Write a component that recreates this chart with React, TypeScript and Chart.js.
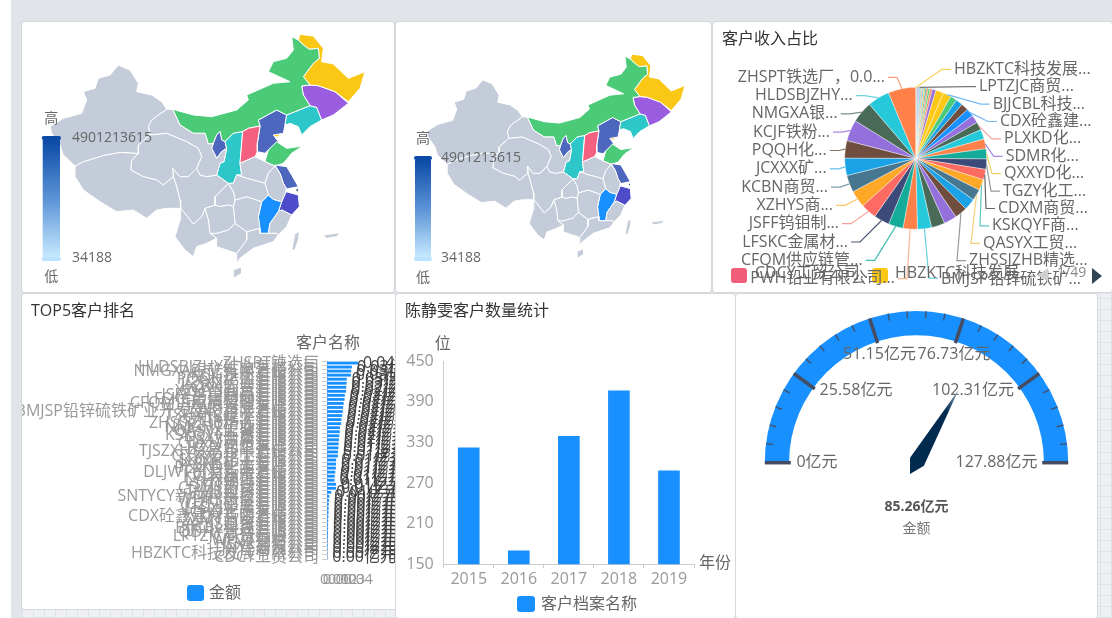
import React, { useEffect, useRef } from "react";
import { Chart, registerables } from "chart.js";

Chart.register(...registerables);

const FONT = '"Open Sans","Noto Sans CJK SC",sans-serif';

// ---------- customers ----------
const customerNames = [
  "ZHSPT铁选厂", "HLDSBJZHY矿业有限公司", "NMGXA银矿有限责任公司", "KCJF铁粉有限公司", "PQQH化工有限公司",
  "JCXXX矿业有限公司", "KCBN商贸有限公司", "XZHYS商贸有限公司", "JSFF钨钼制品有限公司", "LFSKC金属材料有限公司",
  "CFQM供应链管理有限公司", "PWH铅业有限公司", "BMJSP铅锌硫铁矿业开发建设有限责任公司", "TSHXKC矿业有限公司", "GYTX化工有限公司",
  "ZHSSJZHB精选有限公司", "NMGHT矿业有限公司", "QASYX工贸有限公司", "KSKQYF商贸有限公司", "TJSXY金属有限公司",
  "CDXM商贸有限公司", "TGZY化工有限公司", "TJSZXH贸易有限责任公司", "QXXYD化工有限公司", "SDMR化工有限公司",
  "JXSNL矿业有限公司", "PLXKD化工有限公司", "DLJWT贸易有限责任公司", "KCLH商贸有限公司", "LYHX化工有限公司",
  "SYJT钢铁有限公司", "CDMY商贸有限公司", "TYZB工贸有限公司", "SNTYCY新材料科技有限公司", "WHRS商贸有限公司",
  "GZFL矿业有限公司", "LFSXJ金属有限公司", "YCHD化工有限公司", "CDX砼鑫建材有限责任公司", "ZZMT商贸有限公司",
  "AYKS工贸有限公司", "BJJCBL科技有限公司", "QDHY贸易有限公司", "LPTZJC商贸有限公司", "WFGT钢材公司",
  "HSXR贸易公司", "JNYF商贸公司", "HBZKTC科技发展有限公司", "CDCY工贸公司",
];
const customerAmounts = [
  0.04, 0.0321, 0.0312, 0.0308, 0.0255, 0.0253, 0.0249, 0.0246, 0.023, 0.0226,
  0.0215, 0.0208, 0.0204, 0.0197, 0.0187, 0.0183, 0.0167, 0.0165, 0.0158, 0.0154,
  0.015, 0.0147, 0.0143, 0.014, 0.0118, 0.0116, 0.0115, 0.0107, 0.01, 0.0097,
  0.0116, 0.0115, 0.0054, 0.003, 0.0027, 0.0023, 0.0021, 0.002, 0.0018, 0.0016,
  0.0014, 0.0014, 0.0013, 0.0011, 0.0009, 0.0009, 0.0007, 0.0005, 0.0004,
];
const sliceColors = [
  "#ff8149", "#26c9d9", "#4a6a58", "#9370db", "#6f4e3f", "#1ba2e6", "#47778f", "#ffa726", "#ff6b63", "#3b4a78", "#14ab99",
  "#ff8149", "#26c9d9", "#4a6a58", "#9370db", "#6f4e3f", "#1ba2e6", "#47778f", "#ffa726", "#ff6b63", "#3b4a78", "#14ab99",
  "#ff8149", "#26c9d9", "#4a6a58", "#9370db", "#1890ff", "#6f4e3f", "#1ba2e6", "#4bcb78", "#fbc815", "#fbc815",
  "#9370db", "#ff8149", "#4bcb78", "#ff8149", "#14ab99", "#ffa726", "#26c9d9", "#ff6b63", "#4bcb78", "#1ba2e6",
  "#9370db", "#14ab99", "#5a6478", "#3b4a78", "#1890ff", "#fbc815", "#f25e7a",
];

// pie outer labels: text, the customer row they attach to, leader colour
const leftLabels = ["ZHSPT铁选厂，0.0...", "HLDSBJZHY...", "NMGXA银...", "KCJF铁粉...", "PQQH化...", "JCXXX矿...", "KCBN商贸...", "XZHYS商...", "JSFF钨钼制...", "LFSKC金属材...", "CFQM供应链管...", "PWH铅业有限公司..."];
const leftRows = [0, 1, 2, 3, 4, 5, 6, 7, 8, 9, 10, 11];
const leftColors = ["#f5a07c", "#6fd3de", "#7b8f84", "#a58ae0", "#8d7468", "#63bdec", "#7f9dad", "#fbc56c", "#fb9c96", "#4c5673", "#3fbdae", "#f7b595"];
const rightLabels = ["HBZKTC科技发展...", "LPTZJC商贸...", "BJJCBL科技...", "CDX砼鑫建...", "PLXKD化...", "SDMR化...", "QXXYD化...", "TGZY化工...", "CDXM商贸...", "KSKQYF商...", "QASYX工贸...", "ZHSSJZHB精选...", "BMJSP铅锌硫铁矿..."];
const rightRows = [47, 42, 30, 26, 24, 22, 21, 20, 19, 18, 17, 15, 12];
const rightColors = ["#f7d154", "#777777", "#74b9f5", "#74b9f5", "#f5a0a0", "#a58ae0", "#f0d060", "#999999", "#666666", "#5ec4c4", "#f5ce75", "#999999", "#66d0dc"];
const leftEdges = [885, 852.7, 837.7, 830, 826.7, 826.7, 828, 833, 839, 848, 862.7, 895];
const rightEdges = [954, 979, 992.7, 1000, 1004, 1005.7, 1004, 1003, 998, 992, 983, 969, 941];
const pieLegendNames = ["CDCY工贸公司...", "HBZKTC科技发展..."];

// ---------- yearly customer counts ----------
const years = ["2015", "2016", "2017", "2018", "2019"];
const customerCounts = [322, 170, 339, 406, 288];

// ---------- gauge ----------
const gaugeMax = 127.88;
const gaugeValue = 85.26;
const gaugeTickLabels = ["0亿元", "25.58亿元", "51.15亿元", "76.73亿元", "102.31亿元", "127.88亿元"];
const gaugeLabelOffsets = [[-99.5, 0], [-60.5, -72], [-37, -108], [37.5, -108], [56.5, -72], [80, 0]];

// ---------- map ----------
const visualMax = "4901213615";
const visualMin = "34188";
const GRAY = "#c4cbd9";
type Pt = [number, number];
const xinjiang: Pt[] = [[295,135],[330,150],[355,190],[350,215],[395,225],[425,245],[440,268],[415,285],[395,300],[385,320],[390,345],[355,375],[355,400],[300,397],[255,405],[190,425],[165,438],[130,405],[120,375],[95,340],[90,320],[130,295],[185,280],[200,240],[190,215],[225,205],[235,175],[270,165]];
const tibet: Pt[] = [[165,438],[190,425],[255,405],[300,397],[355,400],[335,420],[332,450],[370,470],[410,480],[430,495],[460,470],[470,500],[480,540],[482,565],[440,565],[410,570],[380,595],[340,570],[290,575],[240,545],[190,510],[165,470]];
const qinghai: Pt[] = [[355,400],[355,375],[390,345],[440,340],[500,365],[535,385],[545,410],[530,445],[505,470],[480,470],[458,445],[460,470],[430,495],[410,480],[370,470],[332,450],[335,420]];
const gansu: Pt[] = [[440,268],[458,268],[480,315],[520,340],[555,340],[565,372],[580,370],[575,385],[590,415],[605,395],[620,385],[612,425],[600,430],[590,465],[560,470],[540,465],[530,445],[545,410],[535,385],[500,365],[440,340],[390,345],[385,320],[395,300],[415,285]];
const sichuan: Pt[] = [[458,445],[480,470],[505,470],[530,445],[540,465],[560,470],[590,465],[625,490],[585,530],[585,555],[555,565],[545,590],[520,612],[495,580],[482,565],[480,540],[470,500],[460,470]];
const yunnan: Pt[] = [[482,565],[495,580],[520,612],[545,590],[555,565],[565,600],[570,640],[590,655],[560,670],[530,680],[520,710],[495,690],[465,650],[480,600]];
const guizhou: Pt[] = [[555,565],[585,555],[600,560],[625,555],[640,560],[645,610],[625,630],[590,640],[570,640],[565,600]];
const chongqing: Pt[] = [[585,530],[625,490],[640,515],[645,540],[640,560],[625,555],[600,560],[585,555]];
const hubei: Pt[] = [[640,490],[650,465],[680,475],[700,480],[735,490],[745,525],[725,545],[680,530],[645,540],[640,515],[625,490]];
const hunan: Pt[] = [[640,560],[645,540],[680,530],[725,545],[715,590],[720,625],[680,635],[645,610]];
const guangxi: Pt[] = [[570,640],[590,640],[625,630],[645,610],[680,635],[680,660],[650,700],[620,690],[590,680],[590,655]];
const guangdong: Pt[] = [[680,660],[680,635],[720,625],[720,640],[745,640],[770,640],[775,645],[760,665],[700,685],[660,715],[650,730],[650,700]];
const hainan: Pt[] = [[640,750],[665,740],[665,760],[640,775]];
const fujian: Pt[] = [[750,610],[775,575],[785,570],[815,585],[800,620],[775,645],[770,640],[745,640]];
const taiwan: Pt[] = [[815,690],[825,640],[838,635],[835,660],[825,690]];
const southSea: Pt[] = [[910,645],[960,638],[950,650],[920,655]];
const anhui: Pt[] = [[765,438],[780,460],[790,490],[800,507],[798,515],[785,545],[760,538],[745,525],[735,490],[745,460]];
const henan: Pt[] = [[650,465],[665,465],[660,430],[705,410],[735,425],[765,438],[745,460],[735,490],[700,480],[680,475]];
const jiangxi: Pt[] = [[725,545],[745,525],[760,538],[785,545],[775,575],[750,610],[745,640],[720,640],[715,590]];
const zhejiang: Pt[] = [[798,515],[835,525],[838,560],[815,585],[785,570],[775,575],[785,545]];
const shanghai: Pt[] = [[828,506],[836,506],[836,514],[828,514]];
const jiangsu: Pt[] = [[765,435],[800,440],[815,465],[835,500],[800,507],[790,490],[780,460]];
const shandong: Pt[] = [[735,425],[745,390],[770,365],[800,385],[848,378],[815,400],[790,430],[765,438]];
const shanxi: Pt[] = [[668,335],[685,325],[720,318],[712,370],[712,395],[705,410],[660,430]];
const shaanxi: Pt[] = [[640,340],[668,335],[660,430],[665,465],[650,465],[640,490],[625,490],[590,465],[600,430],[612,425],[620,385],[615,365]];
const ningxia: Pt[] = [[590,345],[600,335],[605,360],[615,365],[620,385],[605,395],[590,415],[575,385],[580,370]];
const innerMongolia: Pt[] = [[458,268],[520,285],[575,290],[650,270],[685,240],[680,225],[760,190],[810,185],[745,155],[760,125],[800,115],[820,90],[815,50],[835,60],[850,75],[868,88],[895,85],[898,115],[880,130],[850,170],[870,195],[845,198],[850,225],[870,257],[800,285],[770,270],[715,300],[720,318],[685,325],[668,335],[640,340],[615,365],[605,360],[600,335],[590,345],[580,370],[565,372],[555,340],[520,340],[480,315]];
const heilongjiang: Pt[] = [[840,43],[880,48],[910,85],[905,125],[940,132],[985,175],[1035,155],[1020,205],[985,245],[945,215],[895,197],[870,195],[850,170],[880,130],[898,115],[895,85],[868,88],[850,75],[835,60]];
const jilin: Pt[] = [[845,198],[870,195],[895,197],[945,215],[985,250],[940,285],[905,300],[890,262],[870,257],[850,225]];
const liaoning: Pt[] = [[800,285],[870,257],[890,262],[905,300],[870,320],[845,345],[835,320],[810,310],[795,315]];
const hebei: Pt[] = [[715,300],[770,270],[800,285],[795,315],[790,340],[760,345],[775,365],[745,390],[735,400],[712,395],[712,370],[720,318]];
const beijing: Pt[] = [[742,315],[765,305],[770,320],[752,335]];
const tianjin: Pt[] = [[760,335],[775,330],[778,350],[762,350]];

const mapRegions: { shape: Pt[]; color: string }[] = [
  { shape: xinjiang, color: GRAY }, { shape: tibet, color: GRAY }, { shape: qinghai, color: GRAY }, { shape: gansu, color: GRAY },
  { shape: sichuan, color: GRAY }, { shape: yunnan, color: GRAY }, { shape: guizhou, color: GRAY }, { shape: chongqing, color: GRAY },
  { shape: hubei, color: GRAY }, { shape: hunan, color: GRAY }, { shape: guangxi, color: GRAY }, { shape: guangdong, color: GRAY },
  { shape: hainan, color: GRAY }, { shape: fujian, color: GRAY }, { shape: taiwan, color: GRAY }, { shape: southSea, color: GRAY },
  { shape: anhui, color: GRAY }, { shape: henan, color: GRAY },
  { shape: jiangxi, color: "#1890ff" }, { shape: zhejiang, color: "#4f4ccb" }, { shape: jiangsu, color: "#4d67bf" },
  { shape: shanghai, color: "#2b3a6b" }, { shape: shandong, color: "#4bcb78" }, { shape: shanxi, color: "#f4607f" },
  { shape: shaanxi, color: "#2dc7c9" }, { shape: ningxia, color: "#4d67bf" }, { shape: innerMongolia, color: "#4bcb78" },
  { shape: heilongjiang, color: "#fac714" }, { shape: jilin, color: "#9a5de0" }, { shape: liaoning, color: "#2dc7c9" },
  { shape: hebei, color: "#4d67bf" }, { shape: beijing, color: "#f4607f" }, { shape: tianjin, color: "#fac714" },
];

function text(ctx: CanvasRenderingContext2D, s: string, x: number, y: number, font: string, color: string, align: CanvasTextAlign = "left") {
  ctx.save();
  ctx.font = font;
  ctx.fillStyle = color;
  ctx.textAlign = align;
  ctx.textBaseline = "middle";
  ctx.fillText(s, x, y);
  ctx.restore();
}
const f = (size: number, weight = "") => `${weight} ${size}px ${FONT}`.trim();

function legendSwatch(ctx: CanvasRenderingContext2D, x: number, y: number, w: number, h: number, color: string) {
  ctx.save();
  ctx.fillStyle = color;
  ctx.beginPath();
  ctx.roundRect(x, y, w, h, 3);
  ctx.fill();
  ctx.restore();
}

function mapConfig(xr: Pt, yr: Pt, vm: { barL: number; barR: number; top: number; bottom: number; hiY: number; loY: number; textX: number }) {
  return {
    type: "scatter",
    data: {
      datasets: mapRegions.map((r) => ({
        data: [...r.shape, r.shape[0]].map(([x, y]) => ({ x, y })),
        showLine: true,
        fill: false,
        backgroundColor: r.color,
        borderColor: "#ffffff",
        borderWidth: 1,
        pointRadius: 0,
        tension: 0,
      })),
    },
    options: {
      animation: false,
      responsive: false,
      layout: { padding: 0 },
      plugins: { legend: { display: false }, tooltip: { enabled: false } },
      scales: {
        x: { type: "linear", display: false, min: xr[0], max: xr[1] },
        y: { type: "linear", display: false, min: yr[0], max: yr[1], reverse: true },
      },
    },
    plugins: [
      {
        id: "regionFill",
        beforeDatasetDraw(chart: any, args: any) {
          const ctx = chart.ctx;
          const pts = args.meta.data;
          ctx.save();
          ctx.fillStyle = chart.data.datasets[args.index].backgroundColor;
          ctx.beginPath();
          pts.forEach((p: any, i: number) => (i ? ctx.lineTo(p.x, p.y) : ctx.moveTo(p.x, p.y)));
          ctx.closePath();
          ctx.fill();
          ctx.restore();
        },
      },
      {
        id: "visualMap",
        afterDraw(chart: any) {
          const ctx = chart.ctx;
          const g = ctx.createLinearGradient(0, vm.top, 0, vm.bottom);
          g.addColorStop(0, "#0b4ba6");
          g.addColorStop(0.5, "#5b93d6");
          g.addColorStop(1, "#c5e8ff");
          ctx.save();
          ctx.fillStyle = g;
          ctx.fillRect(vm.barL, vm.top, vm.barR - vm.barL, vm.bottom - vm.top);
          ctx.fillStyle = "#0b4ba6";
          ctx.beginPath();
          ctx.roundRect(vm.barL - 1, vm.top - 4, vm.barR - vm.barL + 2, 4, 2);
          ctx.fill();
          ctx.fillStyle = "#b9e3ff";
          ctx.beginPath();
          ctx.roundRect(vm.barL - 1, vm.bottom, vm.barR - vm.barL + 2, 4, 2);
          ctx.fill();
          ctx.restore();
          const cx = (vm.barL + vm.barR) / 2;
          text(ctx, "高", cx, vm.hiY, f(14), "#666", "center");
          text(ctx, "低", cx, vm.loY, f(14), "#666", "center");
          text(ctx, visualMax, vm.textX, vm.top - 2, f(14), "#666");
          text(ctx, visualMin, vm.textX, vm.bottom + 1, f(14), "#666");
        },
      },
    ],
  };
}

const PIE_X = 713;
const PIE_Y = 22;
const pieConfig: any = {
  type: "pie",
  data: {
    labels: [...customerNames].reverse(),
    datasets: [
      {
        data: [...customerAmounts].reverse(),
        backgroundColor: [...sliceColors].reverse(),
        borderColor: "#ffffff",
        borderWidth: 0.4,
      },
    ],
  },
  options: {
    animation: false,
    responsive: false,
    radius: 71,
    layout: { padding: { left: 6.4, top: 2.6 } },
    plugins: { legend: { display: false }, tooltip: { enabled: false } },
  },
  plugins: [
    {
      id: "pieLabels",
      afterDraw(chart: any) {
        const ctx = chart.ctx;
        const arcs = chart.getDatasetMeta(0).data;
        const leader = (row: number, edge: number, y: number, color: string, side: number) => {
          const arc = arcs[customerNames.length - 1 - row];
          const mid = (arc.startAngle + arc.endAngle) / 2;
          const x0 = arc.x + Math.cos(mid) * arc.outerRadius;
          const y0 = arc.y + Math.sin(mid) * arc.outerRadius;
          const ex = edge - PIE_X;
          ctx.save();
          ctx.strokeStyle = color;
          ctx.lineWidth = 1.2;
          ctx.beginPath();
          ctx.moveTo(x0, y0);
          ctx.lineTo(ex - side * 12, y);
          ctx.lineTo(ex - side * 3, y);
          ctx.stroke();
          ctx.restore();
        };
        leftLabels.forEach((s, i) => {
          const y = 77.3 + 18.3 * i - PIE_Y;
          leader(leftRows[i], leftEdges[i], y, leftColors[i], -1);
        });
        rightLabels.forEach((s, i) => {
          const y = 69.3 + 17.4 * i - PIE_Y;
          leader(rightRows[i], rightEdges[i], y, rightColors[i], 1);
        });
        // legend underneath the labels
        legendSwatch(ctx, 731 - PIE_X, 268 - PIE_Y, 16, 15, "#f25e7a");
        legendSwatch(ctx, 872 - PIE_X, 268 - PIE_Y, 16, 15, "#fbc815");
        text(ctx, pieLegendNames[0], 755 - PIE_X, 273 - PIE_Y, f(16), "#666");
        text(ctx, pieLegendNames[1], 895 - PIE_X, 273 - PIE_Y, f(16), "#666");
        leftLabels.forEach((s, i) => {
          text(ctx, s, leftEdges[i] - PIE_X, 77.3 + 18.3 * i - PIE_Y, f(16), "#666", "right");
        });
        rightLabels.forEach((s, i) => {
          text(ctx, s, rightEdges[i] - PIE_X, 69.3 + 17.4 * i - PIE_Y + (i === 12 ? 1 : 0), f(16), "#666");
        });
        text(ctx, "1/49", 1057 - PIE_X, 273 - PIE_Y, f(14), "#888");
        ctx.save();
        ctx.fillStyle = "#cfcfcf";
        ctx.beginPath();
        ctx.moveTo(1038 - PIE_X, 275 - PIE_Y);
        ctx.lineTo(1048 - PIE_X, 268 - PIE_Y);
        ctx.lineTo(1048 - PIE_X, 282 - PIE_Y);
        ctx.fill();
        ctx.fillStyle = "#2f4554";
        ctx.beginPath();
        ctx.moveTo(1092 - PIE_X, 268 - PIE_Y);
        ctx.lineTo(1102 - PIE_X, 276 - PIE_Y);
        ctx.lineTo(1092 - PIE_X, 284 - PIE_Y);
        ctx.fill();
        ctx.restore();
      },
    },
  ],
};

const AXIS = "#cccccc";
const topConfig: any = {
  type: "bar",
  data: {
    labels: customerNames,
    datasets: [{ label: "金额", data: customerAmounts, backgroundColor: "#1890ff", barPercentage: 0.7, categoryPercentage: 1 }],
  },
  options: {
    indexAxis: "y",
    animation: false,
    responsive: false,
    layout: { padding: { left: 0, right: 38, top: 67, bottom: 20 } },
    plugins: { legend: { display: false }, tooltip: { enabled: false } },
    scales: {
      x: {
        type: "linear",
        min: 0,
        max: 0.04,
        grid: { display: false },
        border: { color: "#ffffff00" },
        ticks: { stepSize: 0.01, autoSkip: false, maxRotation: 0, minRotation: 0, color: "#999", font: { family: FONT, size: 15 }, padding: 4 },
        afterFit(s: any) { s.height = 30; },
      },
      y: {
        type: "category",
        grid: { display: true, drawOnChartArea: false, color: AXIS, tickLength: 5 },
        border: { color: AXIS },
        ticks: { autoSkip: false, color: "#999", font: { family: FONT, size: 16 }, padding: 3 },
        afterFit(s: any) { s.width = 305; },
      },
    },
  },
  plugins: [
    {
      id: "valueLabels",
      afterDraw(chart: any) {
        const ctx = chart.ctx;
        chart.getDatasetMeta(0).data.forEach((bar: any, i: number) => {
          text(ctx, customerAmounts[i].toFixed(2) + "亿元", bar.x + 5, bar.y, f(16), "#444");
        });
        text(ctx, "客户名称", 306, 49, f(16), "#666", "center");
        legendSwatch(ctx, 165, 291, 17, 16, "#1890ff");
        text(ctx, "金额", 187, 299, f(16), "#666");
      },
    },
  ],
};

const yearConfig: any = {
  type: "bar",
  data: {
    labels: years,
    datasets: [{ label: "客户档案名称", data: customerCounts, backgroundColor: "#1890ff", barThickness: 21 }],
  },
  options: {
    animation: false,
    responsive: false,
    layout: { padding: { left: 7.7, right: 41, top: 67, bottom: 13.7 } },
    plugins: { legend: { display: false }, tooltip: { enabled: false } },
    scales: {
      x: {
        type: "category",
        grid: { display: true, drawOnChartArea: false, color: AXIS, tickLength: 4 },
        border: { color: AXIS },
        ticks: { color: "#999", font: { family: FONT, size: 16 }, padding: 2 },
        afterFit(s: any) { s.height = 40; },
      },
      y: {
        type: "linear",
        min: 150,
        max: 450,
        grid: { display: false },
        border: { color: AXIS },
        ticks: { stepSize: 60, color: "#999", font: { family: FONT, size: 16 }, padding: 2 },
        afterFit(s: any) { s.width = 40; },
      },
    },
  },
  plugins: [
    {
      id: "yearExtras",
      afterDraw(chart: any) {
        const ctx = chart.ctx;
        const { left, right, top, bottom } = chart.chartArea;
        text(ctx, "位", left - 1, top - 17, f(16), "#666", "center");
        text(ctx, "年份", right + 5, bottom - 1, f(16), "#666");
        legendSwatch(ctx, 121, 302, 18, 16, "#1890ff");
        text(ctx, "客户档案名称", 145, 310, f(16), "#666");
      },
    },
  ],
};

const gaugeConfig: any = {
  type: "doughnut",
  data: { labels: ["金额"], datasets: [{ data: [gaugeMax], backgroundColor: "#1890ff", borderWidth: 0 }] },
  options: {
    animation: false,
    responsive: false,
    rotation: -90,
    circumference: 180,
    cutout: "84%",
    radius: 151.7,
    layout: { padding: { bottom: 138.3 } },
    plugins: { legend: { display: false }, tooltip: { enabled: false } },
  },
  plugins: [
    {
      id: "gaugeExtras",
      afterDraw(chart: any) {
        const ctx = chart.ctx;
        const arc = chart.getDatasetMeta(0).data[0];
        const { x: cx, y: cy, outerRadius: R } = arc;
        const polar = (frac: number, r: number) => {
          const a = Math.PI + frac * Math.PI;
          return [cx + Math.cos(a) * r, cy + Math.sin(a) * r];
        };
        ctx.save();
        ctx.lineCap = "butt";
        for (let i = 0; i <= 25; i++) {
          const major = i % 5 === 0;
          const [x0, y0] = polar(i / 25, R);
          const [x1, y1] = polar(i / 25, major ? R - 26 : R - 7);
          ctx.strokeStyle = major ? "#464d62" : "#3f5578";
          ctx.lineWidth = major ? 3.5 : 1.5;
          ctx.beginPath();
          ctx.moveTo(x0, y0);
          ctx.lineTo(x1, y1);
          ctx.stroke();
        }
        ctx.restore();
        gaugeTickLabels.forEach((s, i) => {
          text(ctx, s, cx + gaugeLabelOffsets[i][0], cy + gaugeLabelOffsets[i][1], f(16), "#666", "center");
        });
        // needle
        const a = Math.PI + (gaugeValue / gaugeMax) * Math.PI;
        const ux = Math.cos(a), uy = Math.sin(a), nx = -uy, ny = ux;
        const p = (along: number, side: number) => [cx + ux * along + nx * side, cy + uy * along + ny * side];
        const grad = ctx.createLinearGradient(cx, cy, cx + ux * 84, cy + uy * 84);
        grad.addColorStop(0, "#012a4f");
        grad.addColorStop(0.7, "#012a4f");
        grad.addColorStop(1, "#8fa5ba");
        ctx.save();
        ctx.fillStyle = grad;
        ctx.beginPath();
        [p(84, 0), p(1, 8), p(-13, 0), p(1, -8)].forEach(([x, y], i) => (i ? ctx.lineTo(x, y) : ctx.moveTo(x, y)));
        ctx.closePath();
        ctx.fill();
        ctx.restore();
        text(ctx, gaugeValue.toFixed(2) + "亿元", cx, cy + 44.5, f(14, "bold"), "#555", "center");
        text(ctx, "金额", cx, cy + 66.5, f(14), "#777", "center");
      },
    },
  ],
};

function Panel({ x, y, w, h, title, config }: { x: number; y: number; w: number; h: number; title?: string; config: any }) {
  const ref = useRef<HTMLCanvasElement>(null);
  useEffect(() => {
    const chart = new Chart(ref.current as HTMLCanvasElement, config);
    return () => chart.destroy();
  }, [config]);
  return (
    <div style={{ position: "absolute", left: x, top: y, width: w, height: h, background: "#fff", boxSizing: "border-box", overflow: "hidden", borderRadius: 3, boxShadow: "0 0 0 1px #d6d8dc" }}>
      <canvas ref={ref} width={w} height={h} style={{ position: "absolute", left: 0, top: 0, width: w, height: h }} />
      {title ? (
        <div style={{ position: "absolute", left: 9, top: 6, font: `16px ${FONT}`, color: "#333", whiteSpace: "nowrap", lineHeight: "20px" }}>{title}</div>
      ) : null}
    </div>
  );
}

const map1 = mapConfig([6, 1122], [6, 816], { barL: 42.7 - 22, barR: 60 - 22, top: 140 - 22, bottom: 257 - 22, hiY: 119 - 22, loY: 277 - 22, textX: 72 - 22 });
const map2 = mapConfig([-22.2, 1130], [-72.3, 895.5], { barL: 415 - 396, barR: 431 - 396, top: 160 - 22, bottom: 257 - 22, hiY: 139 - 22, loY: 278 - 22, textX: 441 - 396 });

const gridBg = {
  backgroundColor: "#eef0f4",
  backgroundImage: "repeating-linear-gradient(0deg,#dfe2e8 0 1px,transparent 1px 11px),repeating-linear-gradient(90deg,#dfe2e8 0 1px,transparent 1px 11px)",
};

export default function App() {
  return (
    <div style={{ position: "absolute", left: 0, top: 0, width: 1112, height: 618, overflow: "hidden", background: "#ffffff", filter: "blur(0.35px)" }}>
      <div style={{ position: "absolute", left: 11, top: 0, width: 1101, height: 618, ...gridBg }} />
      <div style={{ position: "absolute", left: 11, top: 0, width: 1101, height: 294, background: "#e1e5ea" }} />
      <div style={{ position: "absolute", left: 11, top: 0, width: 11, height: 618, background: "#e1e5ea" }} />
      <Panel x={22} y={22} w={372} h={270} config={map1} />
      <Panel x={396} y={22} w={315} h={270} config={map2} />
      <Panel x={713} y={22} w={399} h={270} title="客户收入占比" config={pieConfig} />
      <Panel x={22} y={294} w={374} h={315} title="TOP5客户排名" config={topConfig} />
      <Panel x={396} y={294} w={339} h={324} title="陈静雯客户数量统计" config={yearConfig} />
      <Panel x={736} y={294} w={361} h={324} config={gaugeConfig} />
    </div>
  );
}
